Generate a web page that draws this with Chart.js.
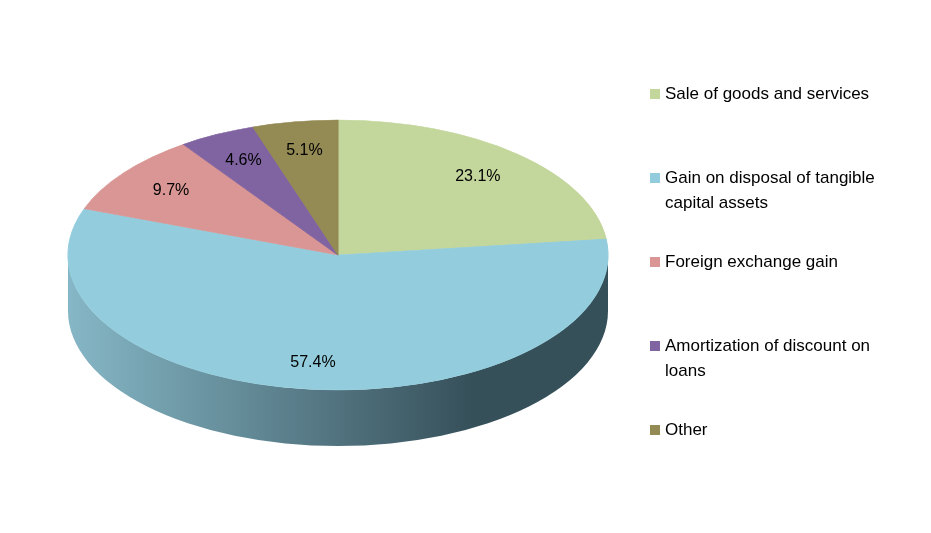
<!DOCTYPE html>
<html><head><meta charset="utf-8">
<script src="https://cdn.jsdelivr.net/npm/chart.js@4/dist/chart.umd.min.js"></script>
<style>html,body{margin:0;padding:0;background:#fff}#wrap{width:931px;height:533px}</style>
</head><body><div id="wrap"><canvas id="c"></canvas></div>
<script>
const labels = ["Sale of goods and services","Gain on disposal of tangible capital assets","Foreign exchange gain","Amortization of discount on loans","Other"];
const legendLines = [["Sale of goods and services"],["Gain on disposal of tangible","capital assets"],["Foreign exchange gain"],["Amortization of discount on","loans"],["Other"]];
const values = [23.1, 57.4, 9.7, 4.6, 5.1];
const colors = ["#c3d69b","#93cddd","#d99694","#8064a2","#948a54"];
const sideDark = ["#6f7f50","#36505a","#7d4e4c","#46325e","#554e2c"];
const sideLight = ["#a9bc80","#86b7c6","#c58583","#6e5590","#807747"];

const CX=338, CY=255, RX=270, RY=135, DEPTH=56;
function tf(chart){
  const a=chart.getDatasetMeta(0).data[0]; const R=a.outerRadius;
  return {R, sx:RX/R, sy:RY/R, x:a.x, y:a.y};
}
const pie3d = {
  id:'pie3d',
  beforeDatasetsDraw(chart){
    const ctx=chart.ctx, t=tf(chart);
    ctx.save();
    ctx.translate(CX,CY); ctx.scale(t.sx,t.sy); ctx.translate(-t.x,-t.y);
    const d=DEPTH/t.sy;
    chart.getDatasetMeta(0).data.forEach((a,i)=>{
      const norm=v=>v;
      let s=a.startAngle, e=a.endAngle;
      const ranges=[[s,e],[s-2*Math.PI,e-2*Math.PI]];
      ranges.forEach(([rs,re])=>{
        const a0=Math.max(rs,0), a1=Math.min(re,Math.PI);
        if(a0>=a1) return;
        const g=ctx.createLinearGradient(t.x-t.R,0,t.x+t.R,0);
        g.addColorStop(0,sideLight[i]); g.addColorStop(0.75,sideDark[i]); g.addColorStop(1,sideDark[i]);
        ctx.beginPath();
        ctx.arc(t.x,t.y,t.R,a0,a1);
        ctx.arc(t.x,t.y+d,t.R,a1,a0,true);
        ctx.closePath();
        ctx.fillStyle=g; ctx.fill();
      });
    });
  },
  afterDatasetsDraw(chart){
    const ctx=chart.ctx; ctx.restore();
    const t=tf(chart);
    ctx.save();
    ctx.font='16px "Liberation Sans", Arial, sans-serif';
    ctx.fillStyle='#000'; ctx.textAlign='center'; ctx.textBaseline='middle';
    chart.getDatasetMeta(0).data.forEach((a,i)=>{
      const m=(a.startAngle+a.endAngle)/2, f=i===1?0.8:0.78;
      ctx.fillText(values[i].toFixed(1)+'%', CX+Math.cos(m)*RX*f, CY+Math.sin(m)*RY*f);
    });
    ctx.textAlign='left';
    ctx.font='17px "Liberation Sans", Arial, sans-serif';
    legendLines.forEach((lines,i)=>{
      const y=94+i*84;
      ctx.fillStyle=colors[i]; ctx.fillRect(650,y-5,10,10);
      ctx.fillStyle='#000';
      lines.forEach((l,j)=>ctx.fillText(l,665,y+j*25));
    });
    ctx.restore();
  }
};
new Chart(document.getElementById('c'),{
  type:'pie',
  data:{labels,datasets:[{data:values,backgroundColor:colors,borderColor:colors,borderWidth:1}]},
  options:{responsive:true,maintainAspectRatio:false,animation:false,events:[],
    layout:{padding:{left:0,right:255,top:0,bottom:23}},
    plugins:{legend:{display:false},tooltip:{enabled:false}}},
  plugins:[pie3d]
});
</script></body></html>
